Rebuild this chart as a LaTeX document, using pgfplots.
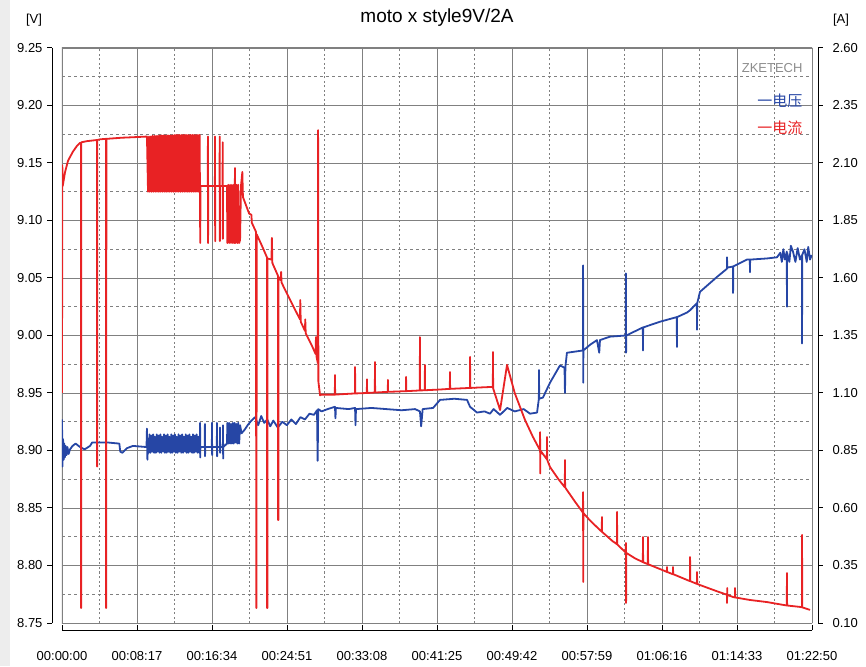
\documentclass[border=0pt]{standalone}
\usepackage{fontspec}
\setmainfont{Liberation Sans}
\newfontfamily\cjk{Noto Sans CJK SC}
\usepackage{pgfplots}
\pgfplotsset{compat=1.18}
\definecolor{vblue}{RGB}{38,70,165}
\definecolor{ired}{RGB}{232,34,36}
\definecolor{gridc}{RGB}{128,128,128}
\definecolor{logoc}{RGB}{140,140,140}

\begin{document}
\begin{tikzpicture}[x=1pt,y=1pt]
\fill[black!7] (0,0) rectangle (10,666);
\path[use as bounding box] (0,0) rectangle (866,666);
\node[font=\fontsize{19}{21}\selectfont] at (437,648) {moto x style9V/2A};
\node[font=\fontsize{13}{15}\selectfont] at (34,646) {[V]};
\node[font=\fontsize{13}{15}\selectfont] at (841,646) {[A]};

\begin{axis}[
  at={(62pt,43pt)}, anchor=south west,
  width=750pt, height=575pt, scale only axis,
  xmin=0, xmax=4970, ymin=8.75, ymax=9.25,
  axis x line*=bottom, axis y line*=left,
  axis line style={draw=none},
  xtick={0,497,994,1491,1988,2485,2982,3479,3976,4473,4970},
  xticklabels={00:00:00,00:08:17,00:16:34,00:24:51,00:33:08,00:41:25,00:49:42,00:57:59,01:06:16,01:14:33,01:22:50},
  ytick={8.75,8.80,8.85,8.90,8.95,9.00,9.05,9.10,9.15,9.20,9.25},
  minor x tick num=1, minor y tick num=1,
  grid=both,
  major grid style={gridc, line width=0.9pt},
  minor y grid style={gridc, line width=0.9pt, dash pattern=on 3pt off 3pt},
  minor x grid style={gridc, line width=0.9pt, dash pattern=on 2pt off 2.5pt},
  xtick align=inside, ytick align=outside,
  major tick length=5pt, minor tick length=0pt,
  tick style={draw=none},
  tick label style={font=\fontsize{13}{15}\selectfont},
  /pgf/number format/assume math mode=true,
  yticklabel style={xshift=-11pt, /pgf/number format/.cd, fixed, fixed zerofill, precision=2},
  xticklabel style={yshift=-25pt},
]
\draw[gridc, line width=1pt] (rel axis cs:0,0) rectangle (rel axis cs:1,1);
\addplot[vblue, line width=1.8pt, line join=round] coordinates {
(0,8.927)(3,8.886)(7,8.910)(11,8.892)(15,8.906)(19,8.894)(24,8.904)(30,8.896)(36,8.903)(44,8.897)(53,8.901)(70,8.904)(90,8.906)(120,8.903)(150,8.901)(186,8.904)(200,8.907)(300,8.907)(380,8.906)(386,8.899)(400,8.898)(430,8.902)(470,8.904)(560,8.903)(563,8.919)(566,8.892)(570,8.906)
(574,8.898)(580,8.914)(586,8.898)(592,8.913)(598,8.899)(604,8.914)(610,8.898)(616,8.912)(622,8.898)(628,8.914)(634,8.899)(640,8.913)(646,8.898)(652,8.914)(658,8.898)(664,8.912)(670,8.899)(676,8.914)(682,8.898)(688,8.913)(694,8.898)(700,8.914)(706,8.899)(712,8.912)(718,8.898)(724,8.914)(730,8.898)(736,8.913)(742,8.899)(748,8.914)(754,8.898)(760,8.912)(766,8.898)(772,8.914)(778,8.899)(784,8.913)(790,8.898)(796,8.914)(802,8.898)(808,8.912)(814,8.899)(820,8.914)(826,8.898)(832,8.913)(838,8.898)(844,8.914)(850,8.899)(856,8.912)(862,8.898)(868,8.914)(874,8.898)(880,8.913)(886,8.899)(892,8.914)(898,8.898)(904,8.912)(910,8.898)
(914,8.904)(915,8.924)(916,8.894)(917,8.903)(946,8.903)(947,8.923)(948,8.895)(949,8.903)(993,8.903)(994,8.924)(995,8.896)(996,8.903)(1026,8.903)(1027,8.924)(1028,8.895)(1029,8.903)(1046,8.903)(1047,8.920)(1048,8.898)(1049,8.903)(1066,8.903)(1067,8.922)(1068,8.893)(1069,8.903)(1093,8.906)
(1096,8.924)(1102,8.906)(1108,8.924)(1114,8.906)(1120,8.923)(1126,8.906)(1132,8.924)(1138,8.906)(1144,8.924)(1150,8.907)(1156,8.923)(1162,8.906)(1168,8.924)(1174,8.906)(1180,8.922)
(1190,8.915)(1210,8.918)(1230,8.922)(1255,8.926)(1280,8.929)(1300,8.922)(1320,8.930)(1340,8.924)(1360,8.927)(1380,8.921)(1400,8.926)(1430,8.920)(1460,8.925)(1490,8.922)(1520,8.927)(1550,8.923)(1580,8.929)(1610,8.927)(1640,8.932)(1670,8.931)(1690,8.935)(1694,8.891)(1698,8.936)(1720,8.934)
(1760,8.936)(1809,8.938)(1812,8.928)(1815,8.937)(1900,8.936)(1942,8.937)(1945,8.922)(1948,8.936)(2050,8.937)(2150,8.936)(2250,8.935)(2340,8.936)(2372,8.934)(2380,8.921)(2390,8.936)(2459,8.937)(2505,8.944)(2600,8.945)(2684,8.944)(2704,8.938)(2750,8.933)(2800,8.934)(2836,8.932)(2860,8.936)(2903,8.931)(2950,8.937)(3000,8.934)(3060,8.936)(3101,8.932)(3148,8.933)
(3160,8.945)(3161,8.970)(3162,8.945)(3187,8.946)(3234,8.959)(3300,8.974)(3330,8.972)(3333,8.950)(3336,8.973)(3346,8.985)(3400,8.986)(3452,8.987)(3453,9.061)(3454,8.959)(3455,8.987)(3500,8.992)(3545,8.996)(3560,8.985)(3565,8.996)(3631,8.999)(3736,9.000)(3737,9.054)(3738,8.985)(3739,9.000)(3849,9.007)(3850,8.987)(3851,9.007)(3963,9.012)(4074,9.016)(4075,8.990)(4076,9.016)(4142,9.020)(4162,9.022)(4207,9.028)(4208,9.005)(4209,9.028)(4228,9.038)(4341,9.051)(4406,9.058)(4407,9.068)(4408,9.059)(4446,9.060)(4447,9.037)(4448,9.060)(4539,9.066)(4558,9.066)(4559,9.055)(4560,9.066)(4672,9.067)(4738,9.068)(4760,9.072)(4770,9.064)(4780,9.075)(4790,9.066)(4803,9.073)(4804,9.025)(4805,9.072)(4820,9.064)(4830,9.078)(4844,9.073)(4860,9.064)(4875,9.076)(4890,9.066)(4903,9.070)(4904,8.993)(4905,9.070)(4920,9.075)(4935,9.064)(4945,9.077)(4957,9.066)(4968,9.070)
};
\node[anchor=east, text=logoc, font=\fontsize{13}{15}\selectfont] at (rel axis cs:0.992,0.965) {ZKETECH};
\node[anchor=east, text=vblue, font=\cjk\fontsize{15}{17}\selectfont] at (rel axis cs:0.992,0.908) {一电压};
\node[anchor=east, text=ired, font=\cjk\fontsize{15}{17}\selectfont] at (rel axis cs:0.992,0.861) {一电流};
\end{axis}

\begin{axis}[
  at={(62pt,43pt)}, anchor=south west,
  width=750pt, height=575pt, scale only axis,
  xmin=0, xmax=4970, ymin=0.10, ymax=2.60,
  axis x line=none, axis y line*=right,
  axis line style={draw=none},
  ytick={0.10,0.35,0.60,0.85,1.10,1.35,1.60,1.85,2.10,2.35,2.60},
  ytick align=outside,
  major tick length=5pt,
  tick style={draw=none},
  tick label style={font=\fontsize{13}{15}\selectfont},
  /pgf/number format/assume math mode=true,
  yticklabel style={xshift=12pt, /pgf/number format/.cd, fixed, fixed zerofill, precision=2},
]
\addplot[ired, line width=1.8pt, line join=round] coordinates {
(0,1.10)(2,2.09)(5,2.00)(20,2.06)(40,2.11)(73,2.15)(100,2.175)(119,2.187)(126,2.188)(126.5,0.165)(127.5,0.165)(128,2.19)(166,2.195)(232,2.20)(232.5,0.78)(233.5,0.78)(234,2.20)(252,2.203)(292,2.205)(292.5,0.165)(293.5,0.165)(294,2.205)(400,2.21)(470,2.212)(563,2.215)
(570,1.975)(576,2.215)(582,1.975)(588,2.215)(594,1.975)(600,2.218)(606,1.975)(612,2.218)(618,1.975)(624,2.218)(630,1.975)(636,2.218)(642,1.975)(648,2.22)(654,1.975)(660,2.22)(666,1.975)(672,2.22)(678,1.975)(684,2.22)(690,1.975)(696,2.22)(702,1.975)(708,2.22)(714,1.975)(720,2.22)(726,1.975)(732,2.22)(738,1.975)(744,2.222)(750,1.975)(756,2.222)(762,1.975)(768,2.222)(774,1.975)(780,2.222)(786,1.975)(792,2.222)(798,1.975)(804,2.222)(810,1.975)(816,2.222)(822,1.975)(828,2.222)(834,1.975)(840,2.222)(846,1.975)(852,2.222)(858,1.975)(864,2.222)(870,1.975)(876,2.222)(882,1.975)(888,2.222)(894,1.975)(900,2.222)(906,1.975)(912,2.222)
(914,2.00)(916,1.752)(918,2.00)(940,2.00)(966,2.00)(967,2.215)(968,1.752)(969,2.00)(1013,2.00)(1014,2.215)(1015,1.76)(1016,2.00)(1044,2.00)(1045,2.215)(1046,1.76)(1047,2.00)(1064,2.00)(1065,2.19)(1066,1.77)(1067,2.00)(1093,2.00)
(1096,1.752)(1102,2.005)(1108,1.752)(1114,2.005)(1120,1.752)(1126,2.005)(1132,1.752)(1138,2.005)(1144,1.752)(1146,2.078)(1150,1.752)(1156,2.005)(1162,1.752)(1168,2.005)(1174,1.752)(1180,1.765)(1186,2.00)(1195,2.061)(1199,1.952)
(1240,1.88)(1255,1.875)(1258,1.84)(1286,1.80)(1287,0.165)(1289,0.165)(1290,1.79)(1325,1.74)(1358,1.69)(1359,0.165)(1361,0.165)(1362,1.685)(1388,1.68)(1391,1.774)(1394,1.665)(1431,1.61)(1432,0.548)(1434,0.548)(1435,1.605)(1450,1.59)(1452,1.626)(1455,1.58)(1500,1.52)(1577,1.42)(1579,1.504)(1582,1.41)(1610,1.37)(1612,1.42)(1615,1.36)(1660,1.30)(1680,1.27)(1683,1.343)(1686,1.26)(1695,1.23)(1697,2.243)(1699,1.15)(1710,1.09)(1720,1.093)
(1808,1.093)(1809,1.178)(1810,1.093)(1860,1.095)(1941,1.098)(1942,1.213)(1943,1.098)(2020,1.10)(2021,1.16)(2022,1.10)(2073,1.102)(2074,1.235)(2075,1.102)(2159,1.105)(2160,1.157)(2161,1.105)(2279,1.108)(2280,1.170)(2281,1.108)(2371,1.111)(2372,1.343)(2373,1.111)(2404,1.112)(2405,1.222)(2406,1.112)(2500,1.115)(2570,1.118)(2571,1.191)(2572,1.118)(2703,1.122)(2704,1.257)(2705,1.122)(2800,1.125)(2836,1.126)(2855,1.126)(2856,1.278)(2857,1.12)(2903,1.026)(2949,1.222)
(3000,1.10)(3068,0.983)(3120,0.91)(3167,0.852)(3168,0.93)(3169,0.75)(3170,0.85)(3213,0.812)(3214,0.909)(3215,0.81)(3234,0.778)(3290,0.725)(3332,0.69)(3333,0.809)(3334,0.69)(3346,0.678)(3400,0.627)(3452,0.58)(3453,0.669)(3454,0.278)(3455,0.578)(3500,0.545)(3565,0.504)(3577,0.497)(3578,0.561)(3579,0.496)(3650,0.455)(3677,0.443)(3678,0.583)(3679,0.442)(3731,0.409)(3736,0.407)(3737,0.448)(3738,0.187)(3739,0.405)(3800,0.38)(3849,0.365)(3850,0.474)(3851,0.364)(3882,0.356)(3883,0.474)(3884,0.355)(3897,0.352)(3980,0.33)(4008,0.322)(4009,0.343)(4010,0.322)(4048,0.312)(4049,0.343)(4050,0.312)(4062,0.309)(4161,0.282)(4162,0.387)(4163,0.282)(4207,0.27)(4208,0.322)(4209,0.27)(4228,0.265)(4340,0.238)(4406,0.223)(4407,0.187)(4408,0.252)(4409,0.222)(4447,0.213)(4459,0.211)(4460,0.252)(4461,0.211)(4560,0.20)(4672,0.191)(4803,0.176)(4804,0.317)(4805,0.176)(4890,0.170)(4903,0.168)(4904,0.483)(4905,0.168)(4957,0.157)
};
\end{axis}

% offset axis lines with their tick marks (layout only)
\begin{scope}[black, line width=1pt]
\draw (52,43) -- (52,618);
\foreach \k in {0,...,10} \draw (52,43+57.5*\k) -- (47,43+57.5*\k);
\draw (818,43) -- (818,618);
\foreach \k in {0,...,10} \draw (818,43+57.5*\k) -- (823,43+57.5*\k);
\draw (62,36) -- (812,36);
\foreach \k in {0,...,10} \draw (62+75*\k,36) -- (62+75*\k,41);
\end{scope}
\end{tikzpicture}
\end{document}
